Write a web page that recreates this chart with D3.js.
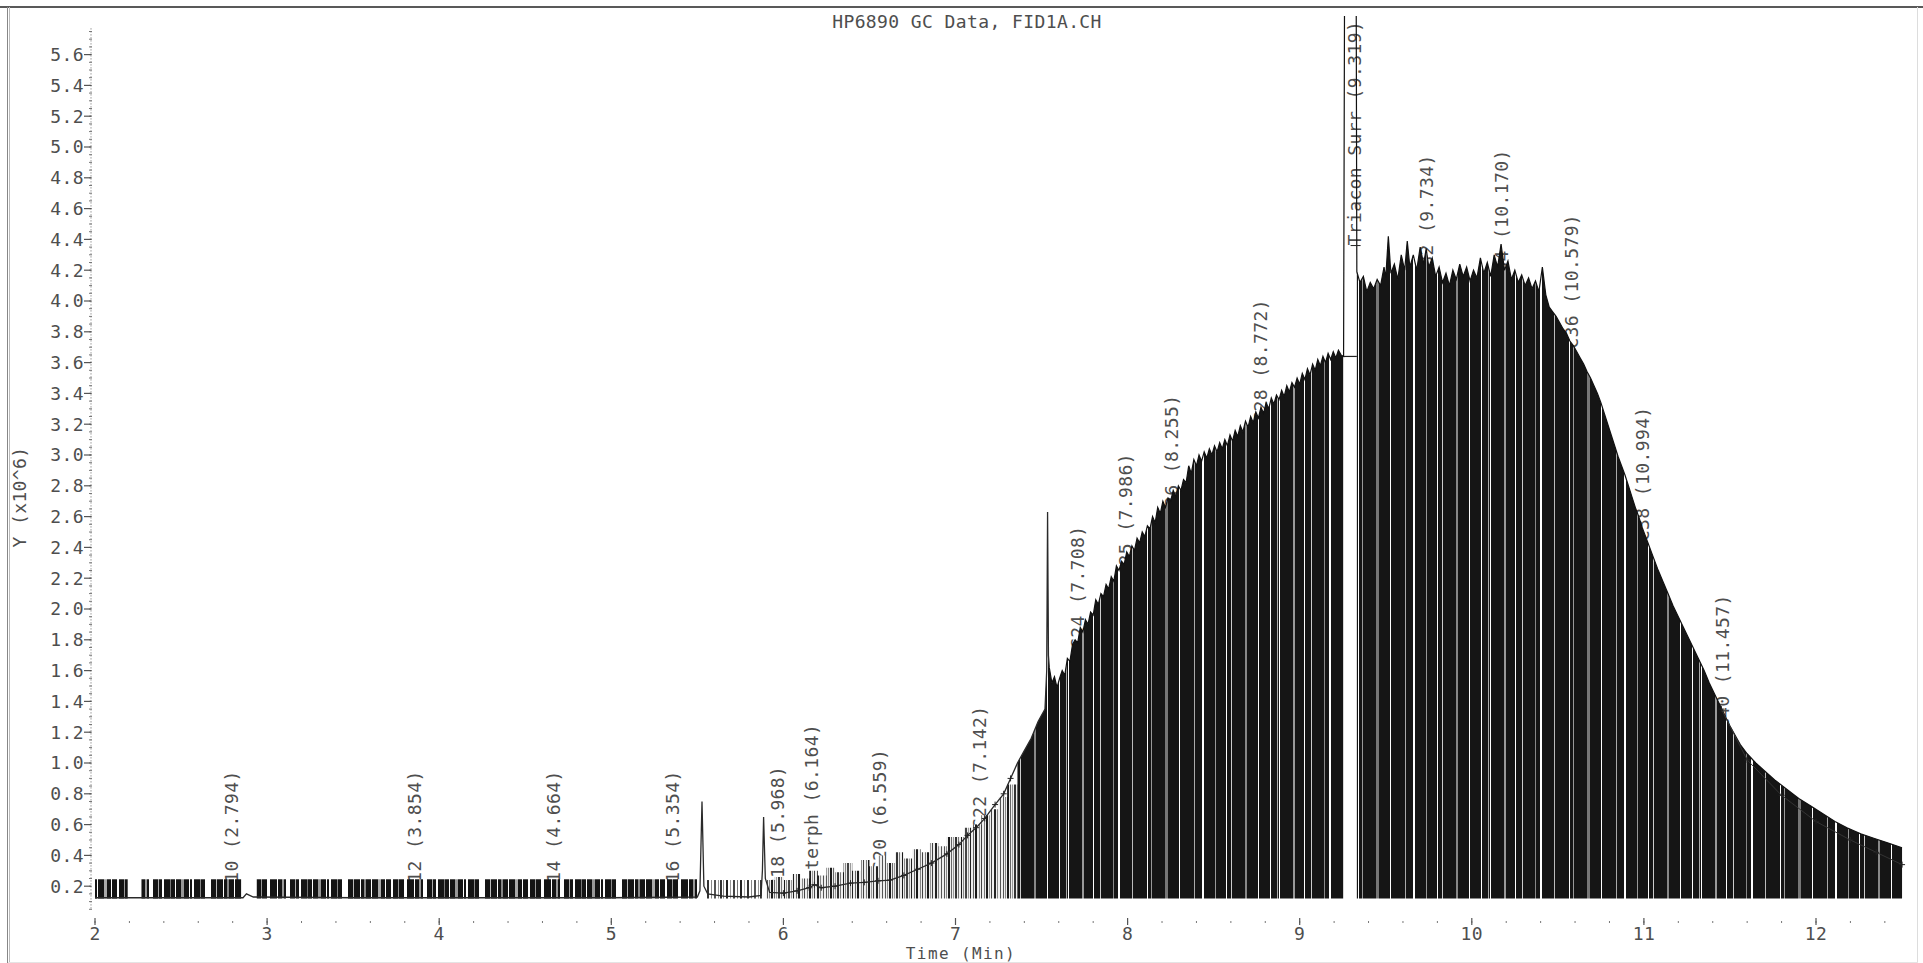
<!DOCTYPE html>
<html><head><meta charset="utf-8">
<script src="https://cdn.jsdelivr.net/npm/d3@7"></script>
<style>
html,body{margin:0;padding:0;background:#fff;overflow:hidden}
svg{display:block}
text{font-family:"DejaVu Sans Mono","Liberation Mono",monospace;font-size:18px;fill:#4e4e4e;letter-spacing:0.4px}
</style></head><body>
<svg id="chart" width="1923" height="963"></svg>
<script>
// ---------------- data ----------------
const chartTitle = "HP6890 GC Data, FID1A.CH";
const xTitle = "Time (Min)";
const yTitle = "Y (x10^6)";
const xTicks = [2,3,4,5,6,7,8,9,10,11,12];
const yTicks = [0.2,0.4,0.6,0.8,1.0,1.2,1.4,1.6,1.8,2.0,2.2,2.4,2.6,2.8,3.0,3.2,3.4,3.6,3.8,4.0,4.2,4.4,4.6,4.8,5.0,5.2,5.4,5.6];
const baselineValue = 0.12;

// detector trace (time, signal x10^6)
const traceT = [2.00,2.50,2.86,2.88,2.92,3.50,4.50,5.00,5.50,5.515,5.527,5.538,5.56,5.65,5.80,5.87,5.878,5.885,5.895,5.92,
6.00,6.08,6.15,6.18,6.22,6.30,6.39,6.47,6.55,6.62,6.70,6.78,6.86,6.95,7.02,7.07,7.12,7.17,7.23,7.28,7.32,7.36,7.40,7.44,7.48,7.52,7.530,7.535,7.540,7.545,
7.56,7.575,7.59,7.605,7.62,7.635,7.65,7.665,7.68,7.695,7.71,7.725,7.74,7.755,7.77,7.785,7.80,7.815,7.83,7.845,7.86,7.875,7.89,7.905,7.92,7.935,7.95,7.965,7.98,7.995,
8.01,8.025,8.04,8.055,8.07,8.085,8.10,8.115,8.13,8.145,8.16,8.175,8.19,8.205,8.22,8.235,8.25,8.265,8.28,8.295,8.31,8.325,8.34,8.355,8.37,8.385,8.40,8.415,8.43,8.445,
8.46,8.475,8.49,8.505,8.52,8.535,8.55,8.565,8.58,8.595,8.61,8.625,8.64,8.655,8.67,8.685,8.70,8.715,8.73,8.745,8.76,8.775,8.79,8.805,8.82,8.835,8.85,8.865,8.88,8.895,
8.91,8.925,8.94,8.955,8.97,8.985,9.00,9.015,9.03,9.045,9.06,9.075,9.09,9.105,9.12,9.135,9.15,9.165,9.18,9.195,9.21,9.225,9.24,9.255,9.262,9.327,9.332,
9.35,9.37,9.39,9.41,9.43,9.45,9.47,9.49,9.50,9.515,9.53,9.55,9.57,9.59,9.61,9.625,9.64,9.66,9.68,9.70,9.72,9.735,9.75,9.77,9.79,9.81,9.83,9.85,9.87,9.89,
9.91,9.93,9.95,9.97,9.99,10.01,10.03,10.05,10.07,10.09,10.11,10.13,10.15,10.17,10.19,10.21,10.23,10.25,10.27,10.29,10.31,10.33,10.35,10.37,10.39,10.41,10.43,10.45,10.47,10.49,
10.51,10.53,10.55,10.57,10.59,10.61,10.63,10.65,10.67,10.69,10.71,10.73,10.75,10.77,10.79,10.81,10.83,10.85,10.87,10.89,10.91,10.93,10.95,10.97,10.99,11.02,11.05,11.08,11.11,11.14,
11.17,11.20,11.23,11.26,11.29,11.32,11.35,11.38,11.41,11.44,11.47,11.50,11.53,11.56,11.60,11.65,11.70,11.76,11.83,11.90,11.97,12.04,12.11,12.18,12.26,12.34,12.42,12.50];
const traceV = [0.125,0.125,0.125,0.15,0.13,0.125,0.125,0.125,0.13,0.17,0.75,0.20,0.15,0.135,0.13,0.14,0.30,0.65,0.25,0.16,
0.155,0.17,0.19,0.21,0.19,0.20,0.22,0.225,0.235,0.24,0.27,0.31,0.35,0.41,0.47,0.53,0.58,0.64,0.73,0.80,0.90,1.00,1.08,1.16,1.27,1.35,1.60,2.63,1.70,1.62,
1.52,1.56,1.49,1.55,1.60,1.57,1.68,1.66,1.77,1.80,1.78,1.88,1.85,1.93,1.90,1.98,1.96,2.06,2.03,2.10,2.08,2.16,2.13,2.21,2.18,2.28,2.25,2.31,2.29,2.37,
2.34,2.41,2.38,2.46,2.43,2.50,2.47,2.54,2.52,2.60,2.56,2.66,2.62,2.70,2.66,2.72,2.70,2.77,2.73,2.80,2.77,2.84,2.82,2.93,2.88,2.97,2.93,3.00,2.96,3.02,
2.98,3.04,3.00,3.06,3.02,3.08,3.04,3.10,3.06,3.13,3.09,3.16,3.12,3.19,3.15,3.22,3.18,3.25,3.21,3.28,3.24,3.31,3.27,3.34,3.30,3.37,3.33,3.39,3.36,3.42,
3.38,3.45,3.41,3.47,3.44,3.50,3.46,3.53,3.49,3.56,3.52,3.59,3.55,3.62,3.58,3.64,3.60,3.66,3.62,3.67,3.63,3.68,3.65,3.64,6.60,6.60,4.19,
4.12,4.16,4.06,4.12,4.08,4.14,4.10,4.22,4.15,4.42,4.18,4.24,4.14,4.30,4.20,4.39,4.22,4.30,4.20,4.35,4.24,4.34,4.22,4.28,4.16,4.22,4.12,4.18,4.10,4.20,
4.14,4.24,4.16,4.22,4.13,4.20,4.15,4.28,4.18,4.25,4.16,4.30,4.22,4.37,4.20,4.26,4.14,4.20,4.12,4.17,4.10,4.15,4.08,4.13,4.06,4.22,4.04,3.96,3.93,3.90,
3.86,3.82,3.79,3.74,3.71,3.67,3.63,3.59,3.54,3.50,3.45,3.40,3.34,3.27,3.20,3.13,3.06,2.99,2.93,2.87,2.80,2.73,2.66,2.60,2.53,2.44,2.35,2.26,2.18,2.10,
2.02,1.95,1.88,1.81,1.74,1.67,1.60,1.52,1.45,1.38,1.31,1.24,1.18,1.12,1.06,1.00,0.95,0.89,0.83,0.77,0.72,0.67,0.62,0.58,0.54,0.51,0.48,0.45];

// integration-mark band (tops of the slice bars) where it rises above the trace
const bandRanges = [[2.00,2.19],[2.27,2.85],[2.94,5.505]];
const bandTop = 0.245;
const gapBandRange = [5.545,5.875];
const gapBandTop = 0.24;
const sliceT = [5.90,5.95,6.00,6.05,6.10,6.15,6.20,6.25,6.30,6.35,6.40,6.45,6.50,6.55,6.60,6.65,6.70,6.75,6.80,6.85,6.90,6.95,7.00,7.05,7.10,7.15,7.20,7.25,7.30,7.36];
const sliceV = [0.24,0.26,0.24,0.28,0.25,0.30,0.27,0.32,0.29,0.35,0.30,0.37,0.33,0.40,0.35,0.42,0.38,0.44,0.42,0.48,0.46,0.52,0.52,0.58,0.60,0.66,0.70,0.78,0.86,1.00];

// tail baseline (skim) drawn through the last slices
const skimT = [11.45,11.60,11.80,12.00,12.20,12.35,12.50];
const skimV = [1.35,1.02,0.79,0.62,0.50,0.42,0.34];

// peak annotations
const peakNames = ["C10","C12","C14","C16","C18","o-terph","C20","C22","C24","C25","C26","C28","Triacon Surr","C32","C34","C36","C38","C40"];
const peakTimes = [2.794,3.854,4.664,5.354,5.968,6.164,6.559,7.142,7.708,7.986,8.255,8.772,9.319,9.734,10.170,10.579,10.994,11.457];
const peakLabelBase = [0.15,0.15,0.15,0.15,0.18,0.16,0.29,0.57,1.74,2.21,2.59,3.21,4.36,4.15,4.11,3.69,2.44,1.22];
const surrBaseline = 3.64;

// ---------------- drawing ----------------
const svg = d3.select("#chart");
const x = d3.scaleLinear().domain([2,12]).range([95,1816]);
const y = d3.scaleLinear().domain([0,5.6]).range([917,54.6]);
const defs = svg.append("defs");

defs.append("clipPath").attr("id","plotClip").append("rect")
  .attr("x",92).attr("y",16).attr("width",1823).attr("height",905);

function makePattern(id, w, bg, stripes){
  const p = defs.append("pattern").attr("id",id).attr("patternUnits","userSpaceOnUse")
    .attr("width",w).attr("height",40);
  p.append("rect").attr("width",w).attr("height",40).attr("fill",bg);
  stripes.forEach(s => p.append("rect").attr("x",s[0]).attr("y",0).attr("width",s[1]).attr("height",40)
    .attr("fill",s[2]).attr("shape-rendering","crispEdges"));
}
makePattern("patBand",137,"#141414",[[3,1,"#fff"],[8,2,"#999"],[12,4,"#fff"],[21,1,"#aaa"],[25,2,"#fff"],[33,1,"#777"],[38,1,"#fff"],[44,3,"#999"],[52,1,"#fff"],[55,2,"#fff"],[63,1,"#888"],[68,6,"#fff"],[79,1,"#bbb"],[86,1,"#fff"],[90,2,"#888"],[97,1,"#fff"],[104,3,"#aaa"],[111,1,"#fff"],[117,2,"#fff"],[124,1,"#999"],[130,3,"#fff"]]);
makePattern("patGap",40,"#fff",[[0,2,"#333"],[3,1,"#888"],[6,2,"#222"],[10,1,"#999"],[13,2,"#444"],[17,1,"#777"],[20,2,"#222"],[24,1,"#aaa"],[27,2,"#333"],[31,1,"#888"],[34,2,"#555"],[38,1,"#999"]]);
makePattern("patMid",59,"#eee",[[0,1,"#555"],[2,1,"#888"],[4,1.5,"#1a1a1a"],[7,1,"#666"],[9,1,"#999"],[11,2,"#333"],[14,1,"#777"],[17,1,"#1a1a1a"],[19,1,"#888"],[21,1.5,"#444"],[24,1,"#999"],[26,1,"#222"],[29,1,"#666"],[31,2,"#1a1a1a"],[35,1,"#888"],[37,1,"#444"],[40,1,"#777"],[42,1.5,"#1a1a1a"],[45,1,"#999"],[47,1,"#444"],[50,2,"#222"],[53,1,"#888"],[56,1,"#555"]]);
makePattern("patDense",211,"#151515",[[4,1,"#fff"],[11,1,"#aaa"],[13,1,"#fff"],[27,2,"#999"],[38,1,"#fff"],[45,1,"#ccc"],[58,1,"#888"],[63,2,"#fff"],[77,1,"#bbb"],[92,1,"#fff"],[96,1,"#999"],[110,3,"#777"],[124,1,"#fff"],[139,1,"#aaa"],[147,2,"#fff"],[160,1,"#999"],[171,1,"#fff"],[176,1,"#ccc"],[190,2,"#888"],[203,1,"#fff"]]);

// frame
svg.append("line").attr("x1",0).attr("x2",1923).attr("y1",7).attr("y2",7).attr("stroke","#222").attr("stroke-width",1.5);
svg.append("line").attr("x1",7.5).attr("x2",7.5).attr("y1",7).attr("y2",963).attr("stroke","#888").attr("stroke-width",1);
svg.append("line").attr("x1",9.5).attr("x2",9.5).attr("y1",7).attr("y2",963).attr("stroke","#bbb").attr("stroke-width",1);
svg.append("line").attr("x1",1917.5).attr("x2",1917.5).attr("y1",7).attr("y2",963).attr("stroke","#ddd");
svg.append("line").attr("x1",8).attr("x2",1918).attr("y1",962.5).attr("y2",962.5).attr("stroke","#e4e4e4");

// title
svg.append("text").attr("x",967).attr("y",28).attr("text-anchor","middle").text(chartTitle);

// annotations (drawn beneath the slices, as in the original)
const labels = svg.append("g");
peakNames.forEach((n,i) => {
  const px = x(peakTimes[i]), py = y(peakLabelBase[i]);
  labels.append("text").attr("transform",`translate(${px},${py}) rotate(-90)`)
    .attr("dy","0.36em").attr("text-anchor","start")
    .text(`${n} (${peakTimes[i].toFixed(3)})`);
});

const plot = svg.append("g").attr("clip-path","url(#plotClip)");
const y0 = y(baselineValue);
const trace = traceT.map((t,i)=>({t, v: traceV[i]}));

// band of slices in the early part
bandRanges.forEach(r => {
  plot.append("rect").attr("x",x(r[0])).attr("width",x(r[1])-x(r[0]))
    .attr("y",y(bandTop)).attr("height",y0-y(bandTop)).attr("fill","url(#patBand)");
});
plot.append("rect").attr("x",x(gapBandRange[0])).attr("width",x(gapBandRange[1])-x(gapBandRange[0]))
  .attr("y",y(gapBandTop)).attr("height",y0-y(gapBandTop)).attr("fill","url(#patGap)");

// mid slices
const slices = sliceT.map((t,i)=>({t, v: sliceV[i]}));
plot.append("path").datum(slices)
  .attr("d", d3.area().x(d=>x(d.t)).y0(y0).y1(d=>y(d.v)).curve(d3.curveStepAfter))
  .attr("fill","url(#patMid)");

// dense integrated area
const areaGen = d3.area().x(d=>x(d.t)).y0(y0).y1(d=>y(d.v));
const seg1 = trace.filter(d => d.t >= 7.36 && d.t <= 9.255);
const seg2 = trace.filter(d => d.t >= 9.332);
[seg1, seg2].forEach(s => plot.append("path").datum(s).attr("d", areaGen).attr("fill","url(#patDense)"));

// trace
const lineGen = d3.line().x(d=>x(d.t)).y(d=>y(d.v));
plot.append("path").datum(trace.filter(d=>d.t<=7.545)).attr("d", lineGen)
  .attr("fill","none").attr("stroke","#2a2a2a").attr("stroke-width",1.3);
plot.append("path").datum(trace.filter(d=>d.t>=7.545)).attr("d", lineGen)
  .attr("fill","none").attr("stroke","#111").attr("stroke-width",1.2);

// surrogate peak drop line
plot.append("line").attr("x1",x(9.255)).attr("x2",x(9.332)).attr("y1",y(surrBaseline)).attr("y2",y(surrBaseline))
  .attr("stroke","#222").attr("stroke-width",1.2);
plot.append("line").attr("x1",x(9.319)-4).attr("x2",x(9.319)+6).attr("y1",y(peakLabelBase[12])).attr("y2",y(peakLabelBase[12]))
  .attr("stroke","#222").attr("stroke-width",1);

// tail skim baseline with markers
const skim = skimT.map((t,i)=>({t, v: skimV[i]}));
plot.append("path").datum(skim).attr("d", lineGen).attr("fill","none").attr("stroke","#333").attr("stroke-width",1);
const marks = trace.filter(d => d.t >= 6.0 && d.t <= 7.35).concat(skim);
plot.selectAll(".mk").data(marks).enter().append("path")
  .attr("d", d => `M${x(d.t)-3},${y(d.v)}h6M${x(d.t)},${y(d.v)-3}v6`)
  .attr("stroke","#222").attr("stroke-width",1);

// y axis (dotted)
const ax = svg.append("g");
ax.append("line").attr("x1",91).attr("x2",91).attr("y1",y(5.77)).attr("y2",y(0.05))
  .attr("stroke","#666").attr("stroke-dasharray","1,2");
const yMinor = d3.range(1,116).map(i => i*0.05);
ax.selectAll(".ym").data(yMinor).enter().append("line")
  .attr("x1",89).attr("x2",92).attr("y1",d=>y(d)).attr("y2",d=>y(d)).attr("stroke","#777");
yTicks.forEach(v => {
  ax.append("line").attr("x1",84).attr("x2",91).attr("y1",y(v)).attr("y2",y(v)).attr("stroke","#555").attr("stroke-width",1.2);
  ax.append("text").attr("x",84).attr("y",y(v)).attr("dy","0.36em").attr("text-anchor","end").text(v.toFixed(1));
});
svg.append("text").attr("transform","translate(20,497) rotate(-90)").attr("text-anchor","middle").attr("dy","0.36em").text(yTitle);

// x axis
const xMinor = d3.range(0,53).map(i => 2 + i*0.2);
ax.selectAll(".xm").data(xMinor).enter().append("line")
  .attr("x1",d=>x(d)).attr("x2",d=>x(d)).attr("y1",921).attr("y2",923).attr("stroke","#777");
xTicks.forEach(t => {
  ax.append("line").attr("x1",x(t)).attr("x2",x(t)).attr("y1",918).attr("y2",925).attr("stroke","#555").attr("stroke-width",1.2);
  ax.append("text").attr("x",x(t)).attr("y",940).attr("text-anchor","middle").text(t);
});
svg.append("text").attr("x",961).attr("y",959.2).attr("text-anchor","middle")
  .style("font-size","16px").style("letter-spacing","1.4px").text(xTitle);
</script>
</body></html>
